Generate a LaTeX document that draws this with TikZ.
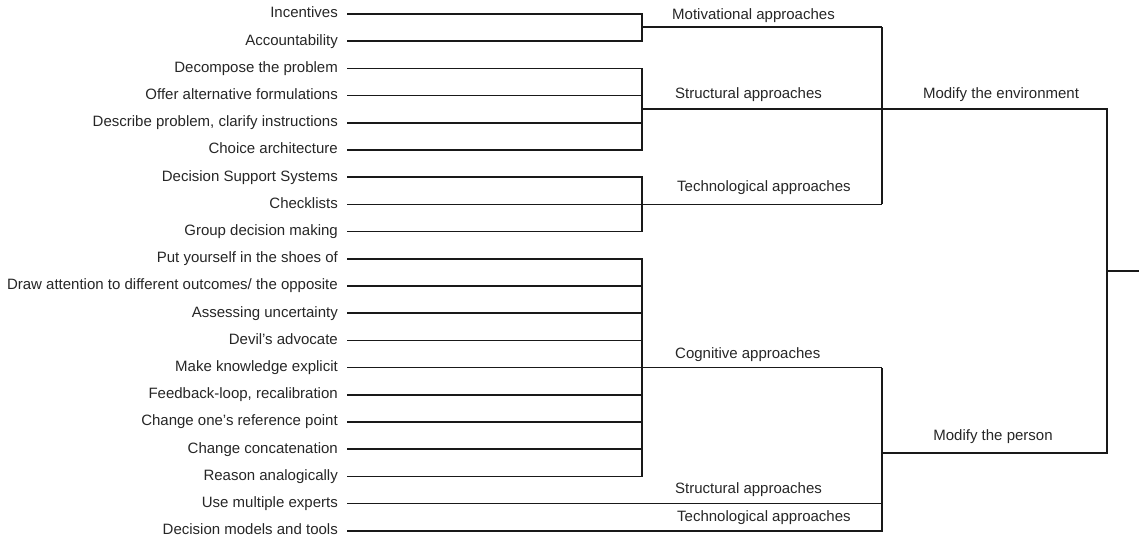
\documentclass[tikz,border=0pt]{standalone}
\usepackage{fontspec}
\setmainfont{Liberation Sans}
\usetikzlibrary{positioning}
\tikzset{
    leaf/.style =   {anchor=east,
                    text=black!85,
                    inner xsep=9pt,
                    inner ysep=0pt,
                    text height=10.8pt,
                    text depth=3pt,
                    font=\fontsize{15}{17}\selectfont},
    group/.style =  {anchor=west,
                    text=black!85,
                    inner sep=0pt,
                    text height=10.8pt,
                    text depth=3pt,
                    font=\fontsize{15}{17}\selectfont},
    next/.style =   {below=27.2pt of #1,
                    anchor=east},
    wire/.style =   {draw=black!90,
                    line width=1.6pt}}

\begin{document}
\begin{tikzpicture}[x=1pt,y=1pt]
                \useasboundingbox (0,0) rectangle (1139,-539);
                % leaves
                \node[leaf]         (inc) at (347,-14)      {Incentives};
                \node[leaf, next=inc.east]  (acc)   {Accountability};
                \node[leaf, next=acc.east]  (dec)   {Decompose the problem};
                \node[leaf, next=dec.east]  (off)   {Offer alternative formulations};
                \node[leaf, next=off.east]  (des)   {Describe problem, clarify instructions};
                \node[leaf, next=des.east]  (cho)   {Choice architecture};
                \node[leaf, next=cho.east]  (dss)   {Decision Support Systems};
                \node[leaf, next=dss.east]  (chk)   {Checklists};
                \node[leaf, next=chk.east]  (gdm)   {Group decision making};
                \node[leaf, next=gdm.east]  (put)   {Put yourself in the shoes of};
                \node[leaf, next=put.east]  (dra)   {Draw attention to different outcomes/ the opposite};
                \node[leaf, next=dra.east]  (ass)   {Assessing uncertainty};
                \node[leaf, next=ass.east]  (dev)   {Devil's advocate};
                \node[leaf, next=dev.east]  (mak)   {Make knowledge explicit};
                \node[leaf, next=mak.east]  (fee)   {Feedback-loop, recalibration};
                \node[leaf, next=fee.east]  (cop)   {Change one's reference point};
                \node[leaf, next=cop.east]  (coc)   {Change concatenation};
                \node[leaf, next=coc.east]  (rea)   {Reason analogically};
                \node[leaf, next=rea.east]  (use)   {Use multiple experts};
                \node[leaf, next=use.east]  (dmt)   {Decision models and tools};

                % junctions
                \coordinate (motJ)  at (642,-27);
                \coordinate (strJ)  at (642,-109);
                \coordinate (envJ)  at (882,-109);
                \coordinate (perJ)  at (882,-453);
                \coordinate (rootL) at (1107,-271);
                \coordinate (rootR) at (1139,-271);

                % group labels
                \node[group]        (motlab) at (672,-16)   {Motivational approaches};
                \node[group]        (strlab) at (675,-95)   {Structural approaches};
                \node[group]        (teclab) at (677,-188)  {Technological approaches};
                \node[group]        (coglab) at (675,-355)  {Cognitive approaches};
                \node[group]        (sttlab) at (675,-490)  {Structural approaches};
                \node[group]        (tcclab) at (677,-518)  {Technological approaches};
                \node[group, anchor=center] (envlab) at (1001,-95)  {Modify the environment};
                \node[group, anchor=center] (perlab) at (993,-437)  {Modify the person};

                % motivational
                \draw[wire] (inc.east) -- (inc.east -| motJ) -- (acc.east -| motJ) -- (acc.east);
                \draw[wire] (motJ) -- (motJ -| envJ);
                % structural
                \draw[wire] (dec.east) -- (dec.east -| motJ) -- (cho.east -| motJ) -- (cho.east);
                \draw[wire] (off.east) -- (off.east -| motJ);
                \draw[wire] (des.east) -- (des.east -| motJ);
                \draw[wire] (strJ) -- (envJ);
                % technological
                \draw[wire] (dss.east) -- (dss.east -| motJ) -- (gdm.east -| motJ) -- (gdm.east);
                \draw[wire] (chk.east) -- (chk.east -| envJ);
                % environment
                \draw[wire] (motJ -| envJ) -- (chk.east -| envJ);
                \draw[wire] (envJ) -- (envJ -| rootL) -- (perJ -| rootL) -- (perJ);
                \draw[wire] (rootL) -- (rootR);
                % cognitive
                \draw[wire] (put.east) -- (put.east -| motJ) -- (rea.east -| motJ) -- (rea.east);
                \foreach \n in {dra,ass,dev,fee,cop,coc}
                    \draw[wire] (\n.east) -- (\n.east -| motJ);
                \draw[wire] (mak.east) -- (mak.east -| perJ);
                % person
                \draw[wire] (use.east) -- (use.east -| perJ);
                \draw[wire] (dmt.east) -- (dmt.east -| perJ) -- (mak.east -| perJ);
        \end{tikzpicture}
\end{document}
